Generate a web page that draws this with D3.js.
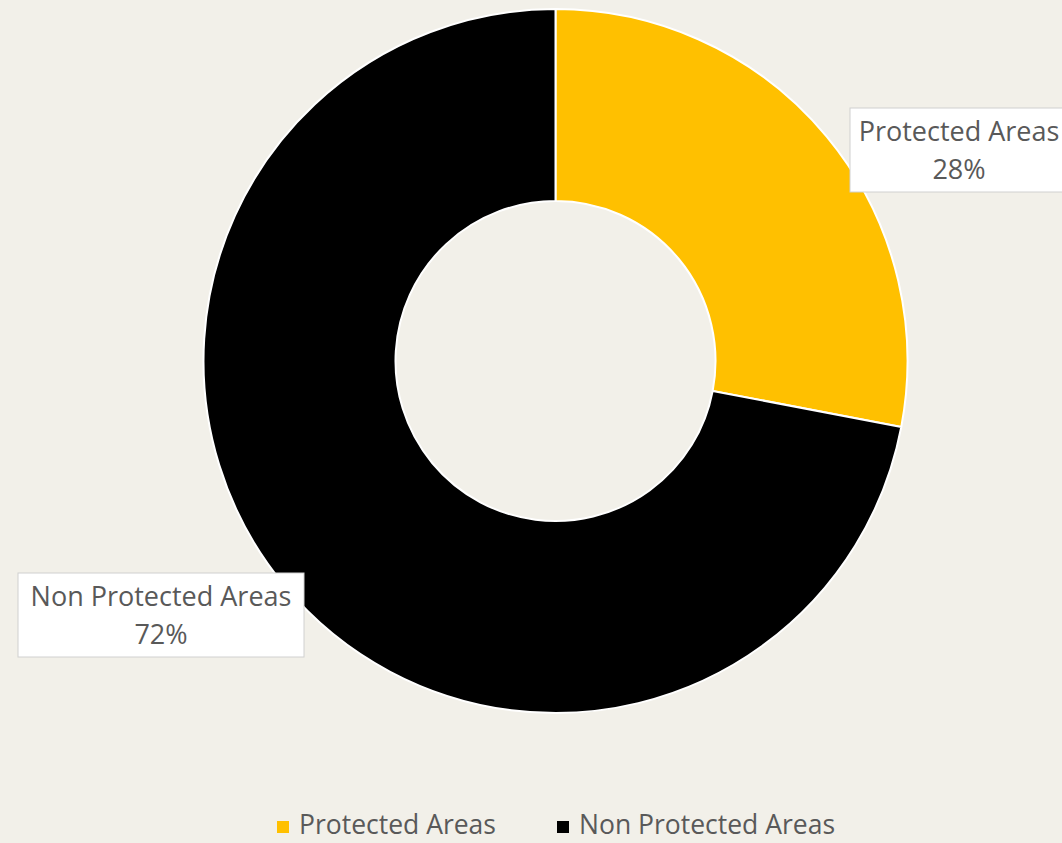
<!DOCTYPE html>
<html>
<head>
<meta charset="utf-8">
<script src="https://d3js.org/d3.v7.min.js"></script>
<style>
  html, body { margin: 0; padding: 0; background: #f2f0e9; }
  svg { display: block; }
  text { font-family: "Open Sans", "DejaVu Sans", sans-serif; fill: #595959; }
</style>
</head>
<body>
<script>
// Share of area by protection status
const categories = ["Protected Areas", "Non Protected Areas"];
const shares = [28, 72];
const colors = ["#ffc000", "#000000"];

const W = 1062, H = 843;
const cx = 555.5, cy = 361;
const outerR = 352, innerR = 160;

const svg = d3.select("body").append("svg")
  .attr("width", W).attr("height", H);

svg.append("rect").attr("width", W).attr("height", H).attr("fill", "#f2f0e9");

const pie = d3.pie().sort(null).value(d => d.value);
const arcs = pie(categories.map((c, i) => ({ name: c, value: shares[i], color: colors[i] })));
const arc = d3.arc().innerRadius(innerR).outerRadius(outerR);

const g = svg.append("g").attr("transform", `translate(${cx},${cy})`);
g.selectAll("path.slice").data(arcs).join("path")
  .attr("class", "slice")
  .attr("d", arc)
  .attr("fill", d => d.data.color)
  .attr("stroke", "#ffffff")
  .attr("stroke-width", 2)
  .attr("stroke-linejoin", "round");

// Data label callouts (boxes placed beside each slice)
const labelPos = [
  { x: 959, y: 108, w: 218, h: 84 },
  { x: 161, y: 573, w: 286, h: 84 }
];
const fs = 27;
const labels = svg.selectAll("g.lbl").data(arcs).join("g").attr("class", "lbl");
labels.append("rect")
  .attr("x", (d, i) => labelPos[i].x - labelPos[i].w / 2)
  .attr("y", (d, i) => labelPos[i].y)
  .attr("width", (d, i) => labelPos[i].w)
  .attr("height", (d, i) => labelPos[i].h)
  .attr("fill", "#ffffff")
  .attr("stroke", "#d0d0d0")
  .attr("stroke-width", 1);
labels.append("text")
  .attr("x", (d, i) => labelPos[i].x)
  .attr("y", (d, i) => labelPos[i].y + 33)
  .attr("text-anchor", "middle")
  .attr("font-size", fs)
  .text(d => d.data.name);
labels.append("text")
  .attr("x", (d, i) => labelPos[i].x)
  .attr("y", (d, i) => labelPos[i].y + 71)
  .attr("text-anchor", "middle")
  .attr("font-size", fs)
  .text(d => d3.format(".0%")(d.data.value / d3.sum(shares)));

// Legend
const legendItems = [
  { sx: 277, tx: 299 },
  { sx: 557, tx: 579 }
];
const legend = svg.selectAll("g.leg").data(arcs).join("g").attr("class", "leg");
legend.append("rect")
  .attr("x", (d, i) => legendItems[i].sx)
  .attr("y", 821)
  .attr("width", 12).attr("height", 12)
  .attr("fill", d => d.data.color);
legend.append("text")
  .attr("x", (d, i) => legendItems[i].tx)
  .attr("y", 834)
  .attr("font-size", 26.5)
  .text(d => d.data.name);
</script>
</body>
</html>
